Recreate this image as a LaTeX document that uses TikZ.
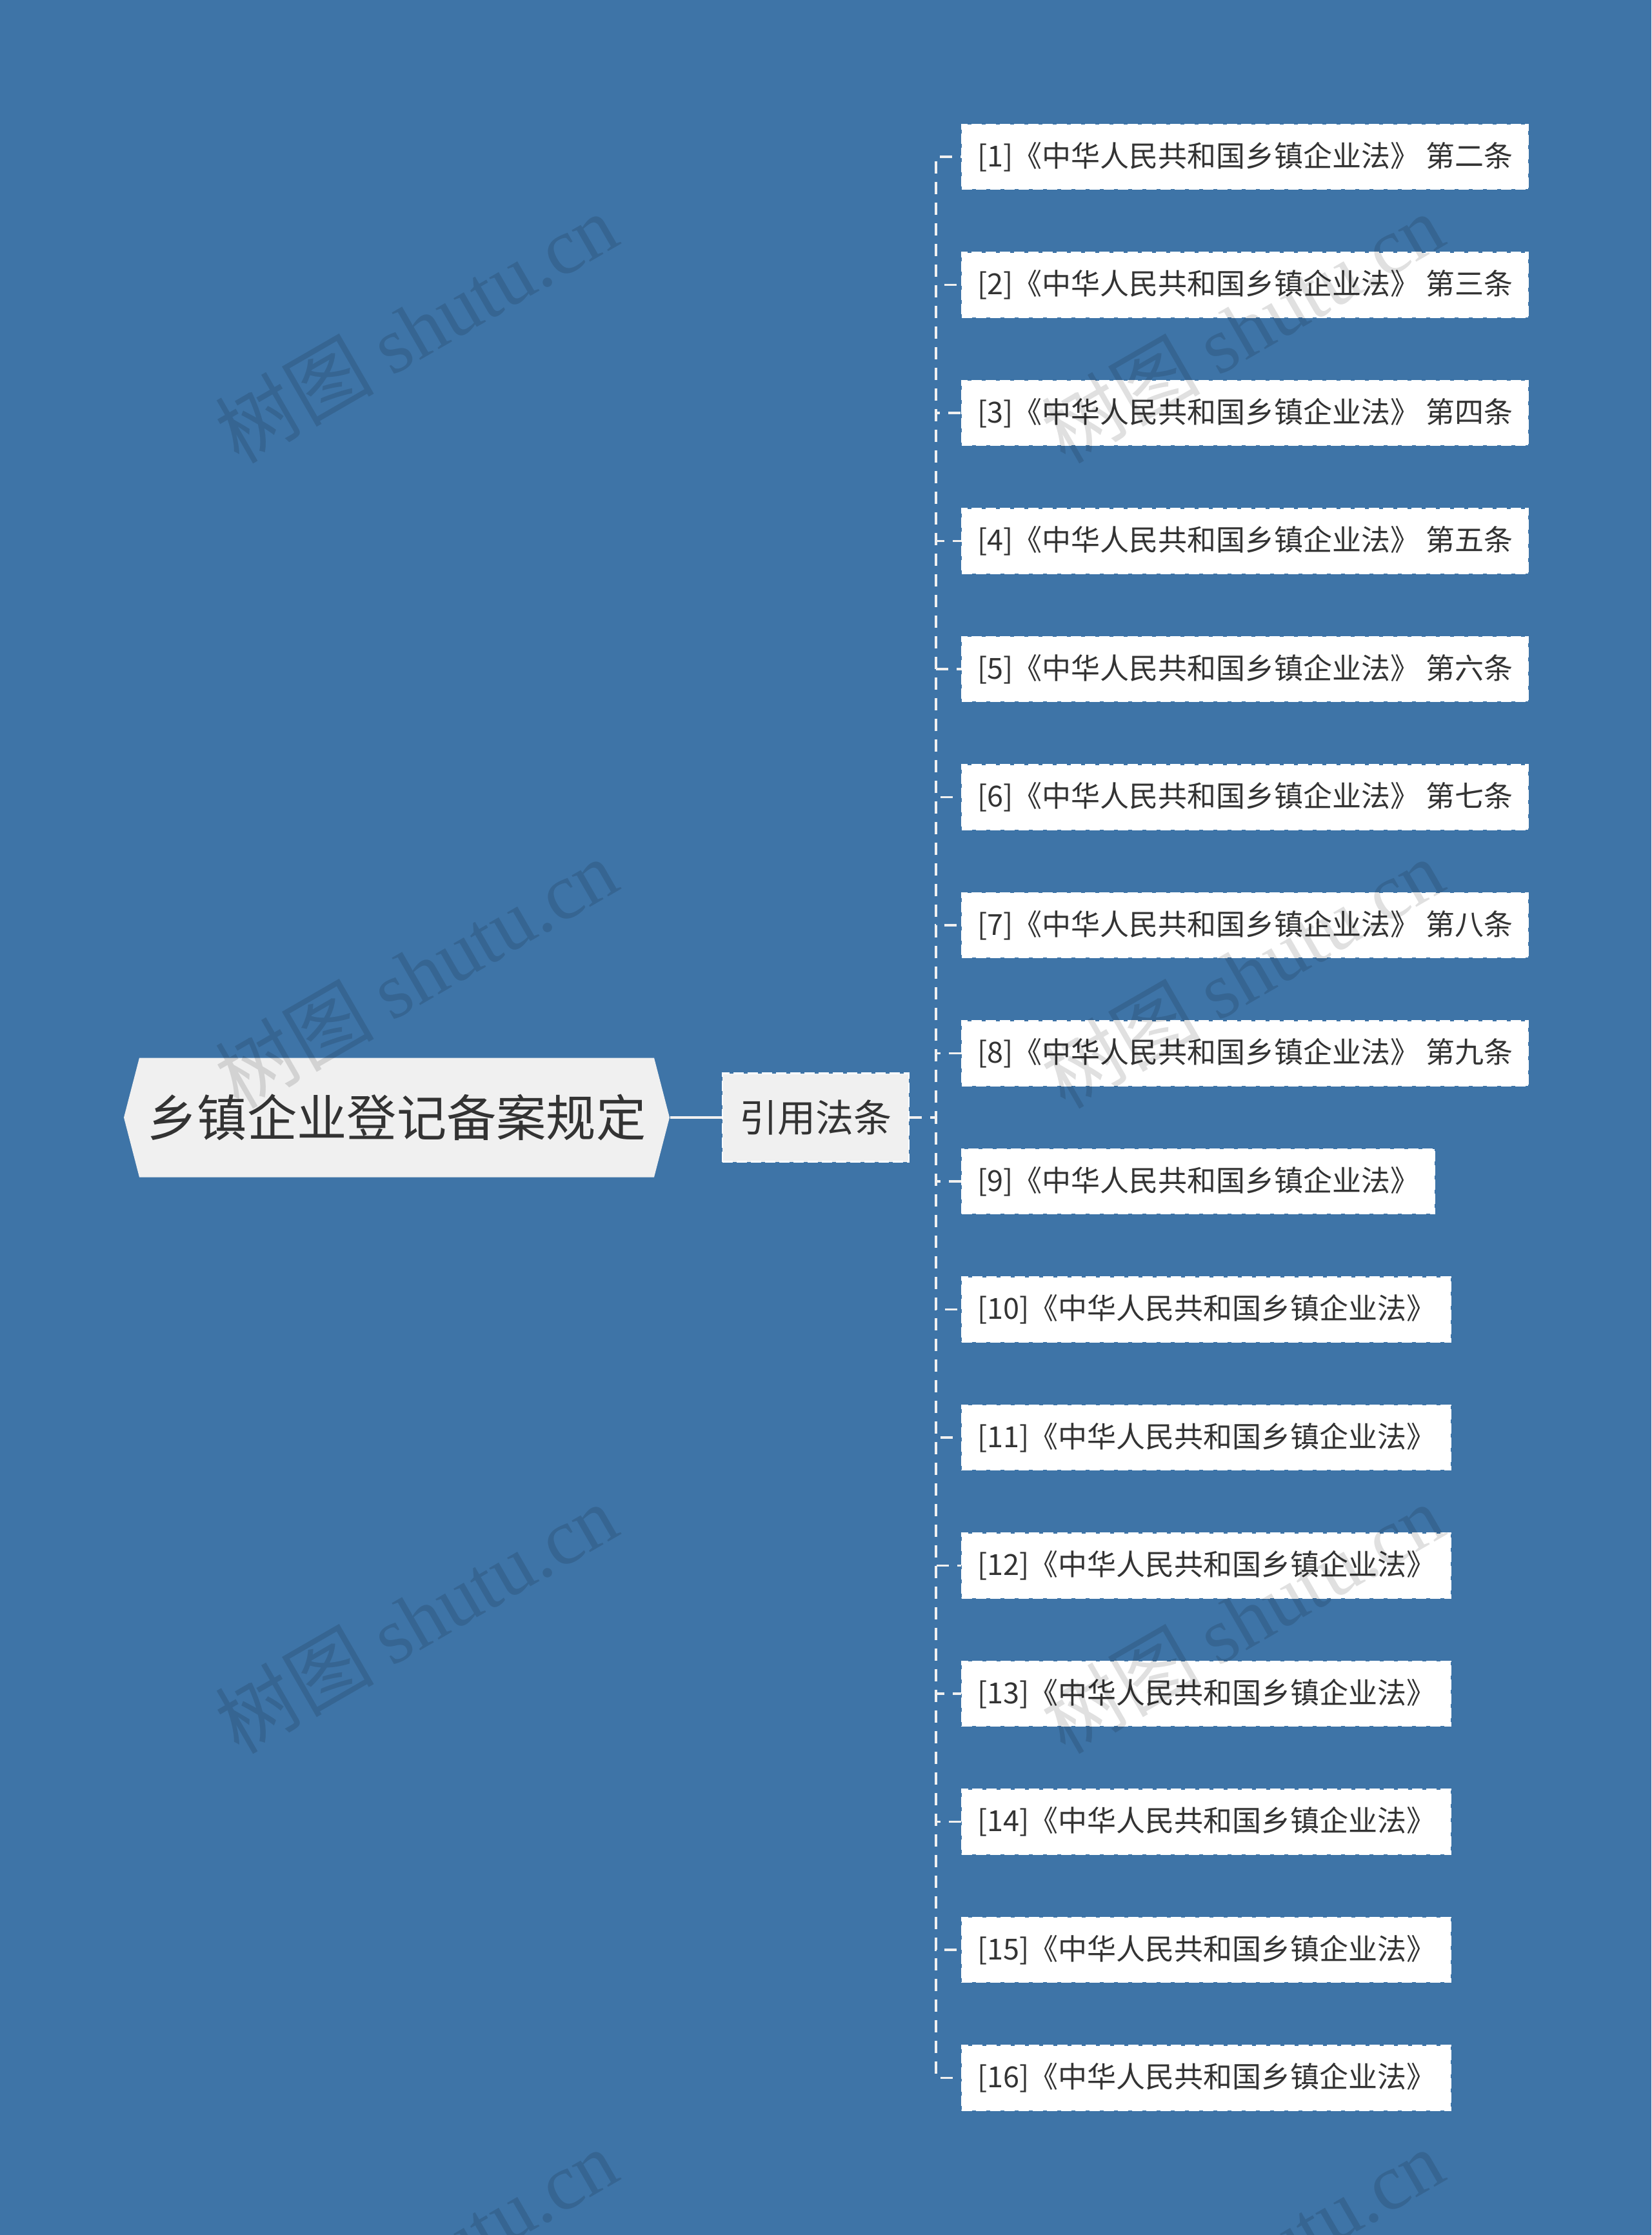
\documentclass[tikz,border=0pt]{standalone}
\usepackage{fontspec}
\setmainfont{Noto Sans CJK SC}
\newfontfamily\wmfont{Liberation Serif}
\definecolor{bgblue}{RGB}{62,116,167}
\definecolor{nodegray}{RGB}{240,240,240}
\definecolor{textgray}{RGB}{51,51,51}

\begin{document}
\begin{tikzpicture}
    \tikzstyle{leaf}=[draw=white,fill=white,line width=0.6pt,dash pattern=on 0.16cm off 0.06cm,
                      minimum height=1cm,inner xsep=0.24cm,anchor=west,text=textgray,
                      font=\fontsize{12.8pt}{14pt}\selectfont]
    \tikzstyle{link}=[draw=nodegray,line width=1.1pt,dash pattern=on 0.19cm off 0.13cm]
    \tikzstyle{watermark}=[text=black,text opacity=0.12,rotate=30,font=\fontsize{35pt}{38pt}\selectfont]

    \useasboundingbox (0,0) rectangle (25.6,-34.64);
    \fill[bgblue] (0,0) rectangle (25.6,-34.64);

    \coordinate (rc) at (6.15,-17.32);
    \fill[nodegray] ([xshift=-4.23cm]rc) -- ([xshift=-3.99cm,yshift=0.925cm]rc) -- ([xshift=3.99cm,yshift=0.925cm]rc)
                 -- ([xshift=4.23cm]rc) -- ([xshift=3.99cm,yshift=-0.925cm]rc) -- ([xshift=-3.99cm,yshift=-0.925cm]rc) -- cycle;
    \node[minimum width=8.46cm,minimum height=1.85cm,text=textgray,font=\fontsize{22pt}{24pt}\selectfont] (root) at (rc) {乡镇企业登记备案规定};
    \node[draw=white,fill=nodegray,line width=0.8pt,dash pattern=on 0.16cm off 0.06cm,minimum width=2.89cm,minimum height=1.37cm,
          text=textgray,font=\fontsize{16.8pt}{18pt}\selectfont] (cite) at (12.645,-17.32) {引用法条};

    \draw[draw=nodegray,line width=1.1pt] (root.east) -- (cite.west);

    \foreach \n/\t in {1/{~第二条},2/{~第三条},3/{~第四条},4/{~第五条},5/{~第六条},6/{~第七条},7/{~第八条},8/{~第九条},
                       9/{},10/{},11/{},12/{},13/{},14/{},15/{},16/{}} {
      \node[leaf] (leaf\n) at (14.9,{-2.43-(\n-1)*1.985}) {[\n]《中华人民共和国乡镇企业法》\t};
      \draw[link] (cite.east) -- ++(0.41,0) |- (leaf\n.west);
    }

    \foreach \wx/\c in {6.45/a,19.26/b}
      \foreach \wy/\r in {5.08/1,15.08/2,25.08/3,35.08/4}
        \node[watermark] (wm\c\r) at (\wx,-\wy) {树图 {\wmfont shutu.cn}};
\end{tikzpicture}
\end{document}
